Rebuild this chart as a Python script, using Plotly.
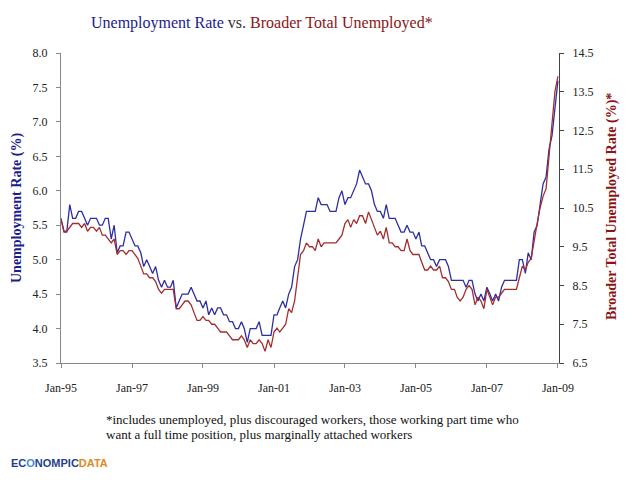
import pandas as pd
import plotly.graph_objects as go

# ---------------- data ----------------
months = pd.date_range("1995-01-01", "2009-01-01", freq="MS")

unemployment_rate = [
    5.6, 5.4, 5.4, 5.8, 5.6, 5.6, 5.7, 5.7, 5.6, 5.5, 5.6, 5.6,   # 1995
    5.6, 5.5, 5.5, 5.6, 5.6, 5.3, 5.5, 5.1, 5.2, 5.2, 5.4, 5.4,   # 1996
    5.3, 5.2, 5.2, 5.1, 4.9, 5.0, 4.9, 4.8, 4.9, 4.7, 4.6, 4.7,   # 1997
    4.6, 4.6, 4.7, 4.3, 4.4, 4.5, 4.5, 4.5, 4.6, 4.5, 4.4, 4.4,   # 1998
    4.3, 4.4, 4.2, 4.3, 4.2, 4.3, 4.3, 4.2, 4.2, 4.1, 4.1, 4.0,   # 1999
    4.0, 4.1, 4.0, 3.8, 4.0, 4.0, 4.0, 4.1, 3.9, 3.9, 3.9, 3.9,   # 2000
    4.2, 4.2, 4.3, 4.4, 4.3, 4.5, 4.6, 4.9, 5.0, 5.3, 5.5, 5.7,   # 2001
    5.7, 5.7, 5.7, 5.9, 5.8, 5.8, 5.8, 5.7, 5.7, 5.7, 5.9, 6.0,   # 2002
    5.8, 5.9, 5.9, 6.0, 6.1, 6.3, 6.2, 6.1, 6.1, 6.0, 5.8, 5.7,   # 2003
    5.7, 5.6, 5.8, 5.6, 5.6, 5.6, 5.5, 5.4, 5.4, 5.5, 5.4, 5.4,   # 2004
    5.3, 5.4, 5.2, 5.2, 5.1, 5.0, 5.0, 4.9, 5.0, 5.0, 5.0, 4.9,   # 2005
    4.7, 4.7, 4.7, 4.7, 4.7, 4.6, 4.7, 4.7, 4.5, 4.4, 4.5, 4.4,   # 2006
    4.6, 4.5, 4.4, 4.5, 4.4, 4.6, 4.7, 4.7, 4.7, 4.7, 4.7, 5.0,   # 2007
    5.0, 4.8, 5.1, 5.0, 5.4, 5.5, 5.8, 6.1, 6.2, 6.6, 6.8, 7.2,   # 2008
    7.6,                                                          # 2009
]

broader_unemployed = [
    10.2, 9.9, 9.9, 10.0, 10.1, 10.1, 10.1, 10.0, 10.1, 9.9, 10.0, 10.0,  # 1995
    9.9, 10.0, 9.8, 9.8, 9.7, 9.6, 9.7, 9.3, 9.4, 9.4, 9.3, 9.4,          # 1996
    9.4, 9.3, 9.2, 9.0, 8.8, 8.8, 8.7, 8.7, 8.6, 8.4, 8.3, 8.4,           # 1997
    8.4, 8.4, 8.4, 7.9, 7.9, 8.0, 8.1, 8.1, 8.0, 7.8, 7.6, 7.6,           # 1998
    7.7, 7.6, 7.6, 7.5, 7.5, 7.4, 7.3, 7.3, 7.3, 7.2, 7.1, 7.1,           # 1999
    7.1, 7.2, 7.1, 6.9, 7.1, 7.0, 7.0, 7.1, 7.0, 6.8, 7.1, 6.9,           # 2000
    7.3, 7.4, 7.3, 7.4, 7.5, 7.9, 7.8, 8.1, 8.7, 9.3, 9.4, 9.6,           # 2001
    9.5, 9.5, 9.4, 9.7, 9.5, 9.6, 9.6, 9.6, 9.6, 9.6, 9.7, 9.8,           # 2002
    10.1, 10.2, 10.0, 10.2, 10.1, 10.3, 10.3, 10.1, 10.4, 10.2, 10.0, 9.8,  # 2003
    9.9, 9.7, 10.0, 9.6, 9.6, 9.5, 9.5, 9.4, 9.4, 9.7, 9.4, 9.3,          # 2004
    9.3, 9.3, 9.1, 8.9, 8.9, 9.0, 8.9, 8.9, 9.0, 8.7, 8.7, 8.6,           # 2005
    8.4, 8.4, 8.2, 8.1, 8.2, 8.4, 8.5, 8.4, 8.0, 8.2, 8.1, 7.9,           # 2006
    8.4, 8.2, 8.0, 8.2, 8.2, 8.3, 8.4, 8.4, 8.4, 8.4, 8.4, 8.7,           # 2007
    9.0, 8.9, 9.1, 9.2, 9.7, 10.1, 10.5, 10.8, 11.0, 11.8, 12.6, 13.5,    # 2008
    13.9,                                                                  # 2009
]

x_tick_vals = ["1995-01-01", "1997-01-01", "1999-01-01", "2001-01-01",
               "2003-01-01", "2005-01-01", "2007-01-01", "2009-01-01"]
x_tick_text = ["Jan-95", "Jan-97", "Jan-99", "Jan-01",
               "Jan-03", "Jan-05", "Jan-07", "Jan-09"]
left_ticks = [3.5, 4.0, 4.5, 5.0, 5.5, 6.0, 6.5, 7.0, 7.5, 8.0]
right_ticks = [6.5, 7.5, 8.5, 9.5, 10.5, 11.5, 12.5, 13.5, 14.5]

# ---------------- style ----------------
BLUE = "#2e2ea3"
RED = "#a32e2e"
NAVY = "#1c1c8c"
DARKRED = "#8b1414"
SERIF = "Liberation Serif, DejaVu Serif, serif"

OFF = 8                      # page offset of the figure inside the window
W, H = 640 - OFF, 480 - OFF
# plot-area edges in window pixels
RL, RR, RT, RB = 61, 559, 53, 363
PL, PR, PT, PB = RL - OFF, RR - OFF, RT - OFF, RB - OFF


def px(xp):
    return (xp - OFF - PL) / (PR - PL)


def py(yp):
    return (PB - (yp - OFF)) / (PB - PT)


fig = go.Figure()
fig.add_trace(go.Scatter(x=months, y=unemployment_rate, mode="lines",
                         line=dict(color=BLUE, width=1.3), yaxis="y",
                         name="Unemployment Rate"))
fig.add_trace(go.Scatter(x=months, y=broader_unemployed, mode="lines",
                         line=dict(color=RED, width=1.3), yaxis="y2",
                         name="Broader Total Unemployed"))

axis_common = dict(showgrid=False, zeroline=False, showline=True,
                   ticks="outside", ticklen=4,
                   tickfont=dict(family=SERIF, size=12, color="#222222"))

fig.update_layout(
    width=W, height=H,
    margin=dict(l=PL, r=W - PR, t=PT, b=H - PB, pad=0),
    paper_bgcolor="white", plot_bgcolor="white",
    showlegend=False,
    xaxis=dict(**axis_common, type="date",
               range=["1995-01-01", "2009-01-12"],
               tickvals=x_tick_vals, ticktext=x_tick_text,
               linecolor="#888888", tickcolor="#888888",
               ticklabelstandoff=10),
    yaxis=dict(**axis_common, range=[3.5, 8.0],
               tickvals=left_ticks, tickformat=".1f",
               linecolor="#888888", tickcolor="#888888",
               ticklabelstandoff=6),
    yaxis2=dict(**axis_common, range=[6.5, 14.5], overlaying="y",
                side="right", tickvals=right_ticks, tickformat=".1f",
                linecolor="#444444", tickcolor="#444444",
                ticklabelstandoff=6),
)

annotations = [
    dict(x=px(262), y=py(23),
         text=('<span style="color:%s">Unemployment Rate</span>'
               ' <span style="color:#333333">vs.</span> '
               '<span style="color:%s">Broader Total Unemployed*</span>') % (NAVY, DARKRED),
         font=dict(family=SERIF, size=16)),
    dict(x=px(17), y=py(208), text="<b>Unemployment Rate (%)</b>", textangle=-90,
         font=dict(family=SERIF, size=14, color=NAVY)),
    dict(x=px(612), y=py(207), text="<b>Broader Total Unemployed Rate (%)*</b>",
         textangle=-90, font=dict(family=SERIF, size=14, color=DARKRED)),
    dict(x=px(104), y=py(419), xanchor="left",
         text="*includes unemployed, plus discouraged workers, those working part time who",
         font=dict(family=SERIF, size=13, color="#111111")),
    dict(x=px(104), y=py(434), xanchor="left",
         text="want a full time position, plus marginally attached workers",
         font=dict(family=SERIF, size=13, color="#111111")),
    dict(x=px(9), y=py(463), xanchor="left",
         text=('<b><span style="color:#1f3f8f">EC</span>'
               '<span style="color:#3a8fd0">O</span>'
               '<span style="color:#1f3f8f">NOMPIC</span>'
               '<span style="color:#e08a1e">DATA</span></b>'),
         font=dict(family="Liberation Sans Narrow, Liberation Sans, sans-serif", size=11)),
]
for a in annotations:
    a.setdefault("xanchor", "center")
    a.update(xref="paper", yref="paper", yanchor="middle", showarrow=False)
fig.update_layout(annotations=annotations)

fig.add_shape(type="line", xref="paper", yref="paper",
              x0=px(637), x1=px(637), y0=py(457), y1=py(468),
              line=dict(color="#8fb4dc", width=1.5))

fig.write_html("out.html")
